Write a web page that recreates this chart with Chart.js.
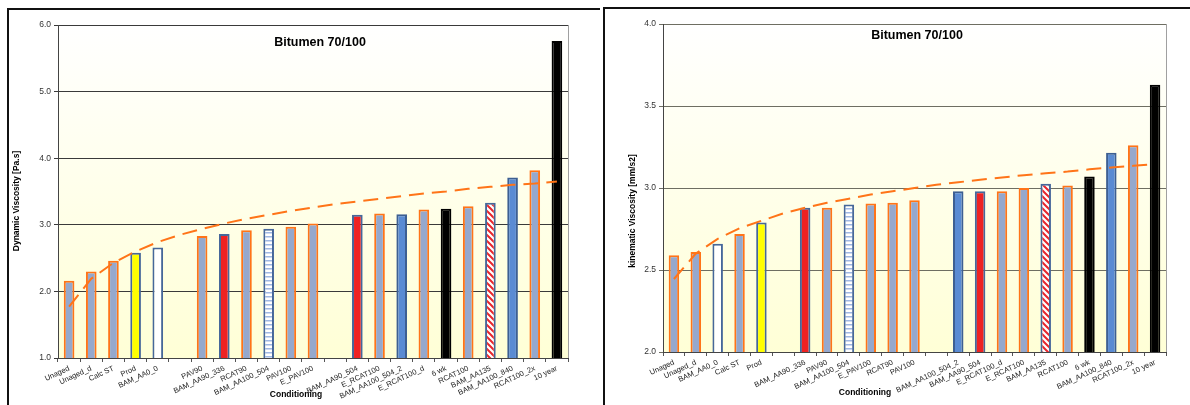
<!DOCTYPE html>
<html>
<head>
<meta charset="utf-8">
<script src="https://cdn.jsdelivr.net/npm/chart.js@4.4.0/dist/chart.umd.min.js"></script>
<style>
  body { margin: 0; background: #fff; width: 1190px; height: 405px; overflow: hidden; position: relative; }
  .frame { position: absolute; border-top: 2px solid #111; border-left: 2px solid #111; box-sizing: border-box; }
  canvas { position: absolute; top: 0; }
</style>
</head>
<body>
<div class="frame" style="left:7px;top:8px;width:593px;height:397px"></div>
<div class="frame" style="left:603px;top:7px;width:587px;height:398px"></div>
<canvas id="dynChart" width="600" height="405" style="left:0"></canvas>
<canvas id="kinChart" width="590" height="405" style="left:600px"></canvas>
<script>
// --- Données : viscosité dynamique ---
const dynLabels = ["Unaged", "Unaged_d", "Calc ST", "Prod", "BAM_AA0_0", "", "PAV90", "BAM_AA90_336", "RCAT90", "BAM_AA100_504", "PAV100", "E_PAV100", "", "BAM_AA90_504", "E_RCAT100", "BAM_AA100_504_2", "E_RCAT100_d", "6 wk", "RCAT100", "BAM_AA135", "BAM_AA100_840", "RCAT100_2x", "10 year"];
const dynValues = [2.16, 2.30, 2.46, 2.58, 2.66, null, 2.83, 2.86, 2.92, 2.94, 2.97, 3.02, null, 3.15, 3.17, 3.16, 3.23, 3.24, 3.28, 3.33, 3.71, 3.82, 5.76];
const dynTrend = [1.77, 2.19, 2.43, 2.60, 2.74, 2.85, 2.94, 3.02, 3.09, 3.15, 3.21, 3.26, 3.31, 3.35, 3.39, 3.43, 3.47, 3.50, 3.54, 3.57, 3.60, 3.62, 3.65];
const dynTicks = [1.0, 2.0, 3.0, 4.0, 5.0, 6.0];

// --- Données : viscosité cinématique ---
const kinLabels = ["Unaged", "Unaged_d", "BAM_AA0_0", "Calc ST", "Prod", "", "BAM_AA90_336", "PAV90", "BAM_AA100_504", "E_PAV100", "RCAT90", "PAV100", "", "BAM_AA100_504_2", "BAM_AA90_504", "E_RCAT100_d", "E_RCAT100", "BAM_AA135", "RCAT100", "6 wk", "BAM_AA100_840", "RCAT100_2x", "10 year"];
const kinValues = [2.59, 2.61, 2.66, 2.72, 2.79, null, 2.88, 2.88, 2.90, 2.905, 2.91, 2.925, null, 2.98, 2.98, 2.98, 3.00, 3.026, 3.016, 3.07, 3.215, 3.26, 3.63];
const kinTrend = [2.445, 2.60, 2.69, 2.755, 2.80, 2.845, 2.88, 2.91, 2.935, 2.96, 2.98, 3.00, 3.02, 3.035, 3.05, 3.064, 3.078, 3.09, 3.10, 3.114, 3.125, 3.135, 3.145];
const kinTicks = [2.0, 2.5, 3.0, 3.5, 4.0];

const FONT = "'Liberation Sans', Arial, sans-serif";
const ORANGE = "#ff7418";
const EDGE = "#46679a";
Chart.defaults.font.family = FONT;

// --- Motifs (hachures) ---
function makePattern(kind) {
  const c = document.createElement("canvas");
  c.width = kind === "diag" ? 6 : 4;
  c.height = kind === "diag" ? 6 : 4;
  const g = c.getContext("2d");
  g.fillStyle = "#fff";
  g.fillRect(0, 0, c.width, c.height);
  if (kind === "diag") {
    g.strokeStyle = "#e8262c";
    g.lineWidth = 2;
    g.beginPath();
    g.moveTo(-1, -1); g.lineTo(7, 7);
    g.moveTo(-1, 5); g.lineTo(1, 7);
    g.moveTo(5, -1); g.lineTo(7, 1);
    g.stroke();
  } else {
    g.fillStyle = "#9fb8e4";
    g.fillRect(0, 0, 4, 1.5);
  }
  return g.createPattern(c, "repeat");
}
const hStripes = makePattern("horiz");
const dStripes = makePattern("diag");

function barStyle(label) {
  if (label === "Prod") return { fill: "#ffff00", edge: EDGE };
  if (label === "BAM_AA0_0") return { fill: "#ffffff", edge: EDGE };
  if (label === "BAM_AA90_336" || label === "BAM_AA90_504") return { fill: "#ee2222", edge: EDGE };
  if (label === "BAM_AA100_504") return { fill: hStripes, edge: EDGE };
  if (label === "BAM_AA135") return { fill: dStripes, edge: EDGE };
  if (label === "BAM_AA100_504_2" || label === "BAM_AA100_840") return { fill: "#5a8bd3", edge: "#3d5f92" };
  if (label === "6 wk" || label === "10 year") return { fill: "#000000", edge: "#000000" };
  return { fill: "#95a8cd", edge: ORANGE };
}

// --- Fond dégradé + textes ---
const decor = {
  id: "decor",
  beforeDraw(chart) {
    const { ctx, chartArea: a } = chart;
    const grad = ctx.createLinearGradient(0, a.top, 0, a.bottom);
    grad.addColorStop(0, "#ffffff");
    grad.addColorStop(1, "#ffffd6");
    ctx.save();
    ctx.fillStyle = grad;
    ctx.fillRect(a.left, a.top, a.width, a.height);
    ctx.strokeStyle = "#a0a0a0";
    ctx.lineWidth = 1;
    ctx.strokeRect(a.left + 0.5, a.top + 0.5, a.width, a.height);
    ctx.restore();
  },
  afterDraw(chart, args, opts) {
    const ctx = chart.ctx;
    ctx.save();
    ctx.fillStyle = "#000";
    ctx.textAlign = "center";
    ctx.textBaseline = "middle";
    ctx.font = `bold 12.5px ${FONT}`;
    ctx.fillText(opts.title, opts.titleAt[0], opts.titleAt[1]);
    ctx.font = `bold 8.5px ${FONT}`;
    ctx.fillText(opts.xTitle, opts.xTitleAt[0], opts.xTitleAt[1]);
    ctx.translate(opts.yTitleAt[0], opts.yTitleAt[1]);
    ctx.rotate(-Math.PI / 2);
    ctx.fillText(opts.yTitle, 0, 0);
    ctx.restore();
  },
};

function buildChart(id, labels, values, trend, ticks, o) {
  return new Chart(document.getElementById(id), {
    type: "bar",
    data: {
      labels,
      datasets: [
        { type: "line", data: trend, borderColor: ORANGE, borderWidth: 2, borderDash: [15, 8], pointRadius: 0, fill: false, tension: 0, order: 0 },
        {
          data: values,
          backgroundColor: labels.map((l) => barStyle(l).fill),
          borderColor: labels.map((l) => barStyle(l).edge),
          borderWidth: 2,
          borderSkipped: false,
          barPercentage: 0.48,
          categoryPercentage: 1,
          order: 1,
        },
      ],
    },
    options: {
      responsive: false,
      animation: false,
      layout: { padding: o.padding },
      plugins: { legend: { display: false }, tooltip: { enabled: false }, decor: o.decor },
      scales: {
        x: {
          grid: { display: true, drawOnChartArea: false, tickLength: 4, color: "#555", offset: true },
          border: { color: "#444" },
          ticks: { autoSkip: false, minRotation: 25, maxRotation: 25, color: "#222", font: { size: 7.5 }, padding: 2 },
          afterFit: (s) => { s.height = o.xHeight; },
        },
        y: {
          min: ticks[0],
          max: ticks[ticks.length - 1],
          ticks: { stepSize: ticks[1] - ticks[0], callback: (v) => v.toFixed(1), color: "#333", font: { size: 8.5 }, padding: 3 },
          grid: { color: o.gridColor, tickLength: 4 },
          border: { color: "#444" },
          afterFit: (s) => { s.width = o.yWidth; },
        },
      },
    },
    plugins: [decor],
  });
}

buildChart("dynChart", dynLabels, dynValues, dynTrend, dynTicks, {
  padding: { left: 0, top: 25, right: 32, bottom: 0 },
  yWidth: 58,
  xHeight: 47,
  gridColor: "#3a3a3a",
  decor: { title: "Bitumen 70/100", titleAt: [320, 43], xTitle: "Conditioning", xTitleAt: [296, 395], yTitle: "Dynamic Viscosity [Pa.s]", yTitleAt: [17, 201] },
});

buildChart("kinChart", kinLabels, kinValues, kinTrend, kinTicks, {
  padding: { left: 0, top: 24, right: 24, bottom: 0 },
  yWidth: 63,
  xHeight: 53,
  gridColor: "#6e6e62",
  decor: { title: "Bitumen 70/100", titleAt: [317, 36], xTitle: "Conditioning", xTitleAt: [265, 393], yTitle: "kinematic Viscosity [mm/s2]", yTitleAt: [33, 211] },
});
</script>
</body>
</html>
